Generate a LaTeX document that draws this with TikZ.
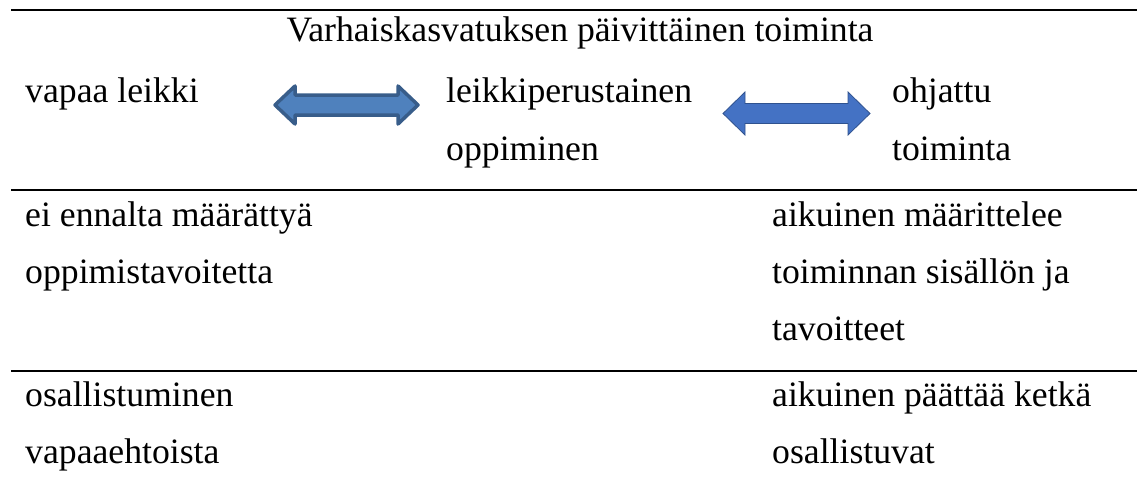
\documentclass[tikz,border=0pt]{standalone}
\usepackage{fontspec}
\setmainfont{Liberation Serif}
\definecolor{arrAfill}{HTML}{4F81BD}
\definecolor{arrAline}{HTML}{385D8A}
\definecolor{arrBfill}{HTML}{4472C4}
\definecolor{arrBline}{HTML}{2F528F}
\tikzset{
  txt/.style={anchor=base west, inner sep=0pt, font=\fontsize{35.7}{40}\selectfont},
  ttl/.style={anchor=base, inner sep=0pt, font=\fontsize{35.7}{40}\selectfont},
  rulel/.style={line width=2.6pt, black},
  arrowA/.style={fill=arrAfill, draw=arrAline, line width=3.5pt, line join=round},
  arrowB/.style={fill=arrBfill, draw=arrBline, line width=0.8pt, line join=miter}
}
\begin{document}
\begin{tikzpicture}[x=1pt,y=-1pt]
\useasboundingbox (0,0) rectangle (1137,487);
% rules
\coordinate (r1a) at (11,10);  \coordinate (r1b) at (1137,10);
\coordinate (r2a) at (11,190); \coordinate (r2b) at (1137,190);
\coordinate (r3a) at (11,371); \coordinate (r3b) at (1137,371);
\draw[rulel] (r1a) -- (r1b);
\draw[rulel] (r2a) -- (r2b);
\draw[rulel] (r3a) -- (r3b);
% title and header row
\node[ttl] (title) at (580,42) {Varhaiskasvatuksen päivittäinen toiminta};
\node[txt] (vapaa) at (25,102) {vapaa leikki};
\node[txt] (leikki1) at (446,102) {leikkiperustainen};
\node[txt] (leikki2) at (446,160) {oppiminen};
\node[txt] (ohj1) at (892,102) {ohjattu};
\node[txt] (ohj2) at (892,160) {toiminta};
% arrows
\draw[arrowA] (275,105) -- (295,86) -- (295,95) -- (398,95) -- (398,86) -- (418,105)
  -- (398,124) -- (398,115) -- (295,115) -- (295,124) -- cycle;
\draw[arrowB] (723,113.5) -- (745,92) -- (745,103.5) -- (848,103.5) -- (848,92) -- (870,113.5)
  -- (848,135) -- (848,123.5) -- (745,123.5) -- (745,135) -- cycle;
% second section
\node[txt] (ei1) at (25,226) {ei ennalta määrättyä};
\node[txt] (ei2) at (25,283) {oppimistavoitetta};
\node[txt] (aik1) at (772,226) {aikuinen määrittelee};
\node[txt] (aik2) at (772,283) {toiminnan sisällön ja};
\node[txt] (aik3) at (772,340) {tavoitteet};
% third section
\node[txt] (osa1) at (25,406) {osallistuminen};
\node[txt] (osa2) at (25,463) {vapaaehtoista};
\node[txt] (pa1) at (772,406) {aikuinen päättää ketkä};
\node[txt] (pa2) at (772,463) {osallistuvat};
\end{tikzpicture}
\end{document}
